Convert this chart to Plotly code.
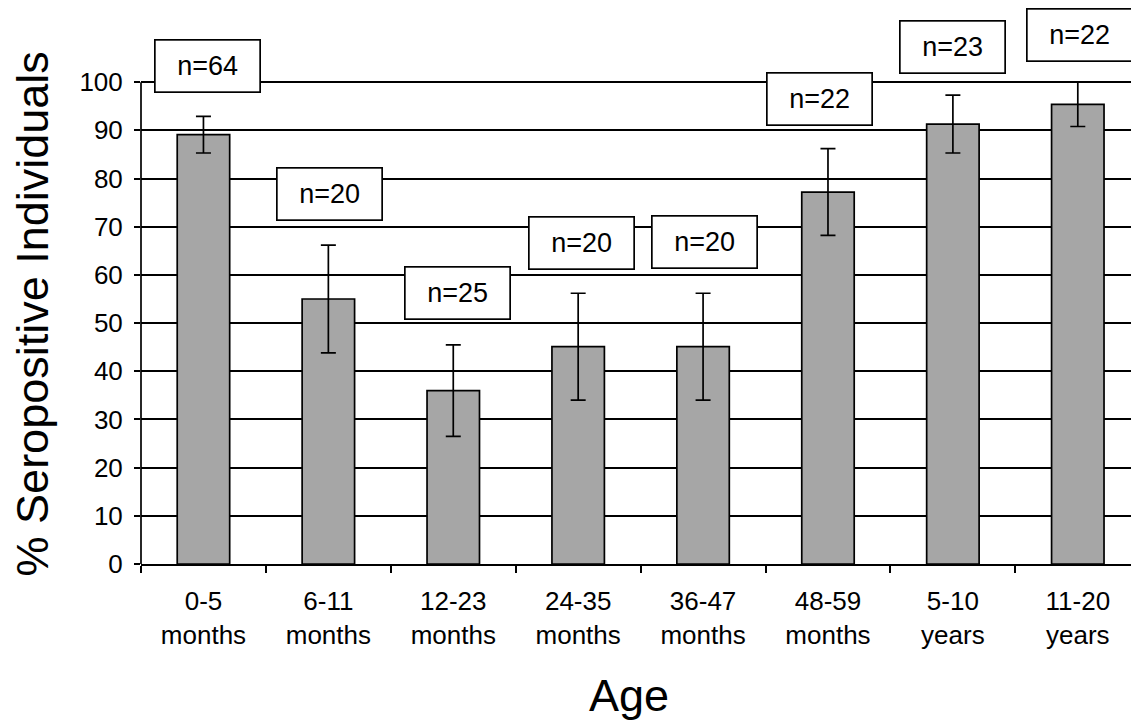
import plotly.graph_objects as go

categories = ["0-5<br>months", "6-11<br>months", "12-23<br>months", "24-35<br>months",
              "36-47<br>months", "48-59<br>months", "5-10<br>years", "11-20<br>years"]
percent_seropositive = [89.1, 55.0, 36.0, 45.1, 45.1, 77.2, 91.3, 95.4]
error_margin = [3.8, 11.2, 9.5, 11.1, 11.1, 9.0, 6.0, 4.6]
n_labels = ["n=64", "n=20", "n=25", "n=20", "n=20", "n=22", "n=23", "n=22"]
label_y = [103.4, 76.8, 56.2, 66.7, 66.9, 96.6, 107.4, 109.7]
label_xshift = [4, 1, 4, 3, 1, -8, 0, 2]
y_ticks = list(range(0, 101, 10))
y_title = "% Seropositive Individuals"
x_title = "Age"

FONT = "Liberation Sans, Arial, Helvetica, sans-serif"

fig = go.Figure()
fig.add_trace(go.Bar(
    x=categories,
    y=percent_seropositive,
    marker=dict(color="#a6a6a6", line=dict(color="black", width=1.7)),
    error_y=dict(type="data", array=error_margin, visible=True,
                 color="black", thickness=1.7, width=7.5),
    showlegend=False,
))

for cat, lab, yv, xs in zip(categories, n_labels, label_y, label_xshift):
    fig.add_annotation(
        x=cat, y=yv, xref="x", yref="y", text=lab, showarrow=False,
        xshift=xs, font=dict(family=FONT, size=27, color="black"),
        bgcolor="white", bordercolor="black", borderwidth=1.7,
        width=102, height=49, borderpad=1,
    )

# axis titles (placed as in the original figure)
fig.add_annotation(
    x=0, y=51.8, xref="paper", yref="y", text=y_title, showarrow=False,
    textangle=-90, xanchor="center", yanchor="middle", xshift=-109,
    font=dict(family=FONT, size=45, color="black"),
)
fig.add_annotation(
    x=0.489, y=0, xref="paper", yref="paper", text=x_title, showarrow=False,
    xanchor="center", yanchor="top", yshift=-104,
    font=dict(family=FONT, size=45, color="black"),
)

# y axis line only from 0 to 100
fig.add_shape(type="line", xref="paper", yref="y", x0=0, x1=0, y0=0, y1=100,
              line=dict(color="black", width=1.7))

fig.update_layout(
    width=1131, height=714,
    margin=dict(l=133, r=0, t=0, b=158),
    paper_bgcolor="white", plot_bgcolor="white",
    font=dict(family=FONT, color="black"),
    bargap=0.58,
    xaxis=dict(
        range=[-0.5, 7.49],
        showline=True, linecolor="black", linewidth=1.7,
        ticks="outside", tickson="boundaries", ticklen=7, tickcolor="black", tickwidth=1.7,
        tickfont=dict(size=26, family=FONT, color="black"),
        ticklabelstandoff=13,
        showgrid=False,
    ),
    yaxis=dict(
        range=[0, 115.4],
        tickvals=y_ticks,
        showline=False,
        ticks="outside", ticklen=6, tickcolor="black", tickwidth=1.7,
        tickfont=dict(size=26, family=FONT, color="black"),
        ticklabelstandoff=6,
        showgrid=True, gridcolor="black", gridwidth=1.7,
        zeroline=False,
    ),
)

fig.write_html("out.html")
